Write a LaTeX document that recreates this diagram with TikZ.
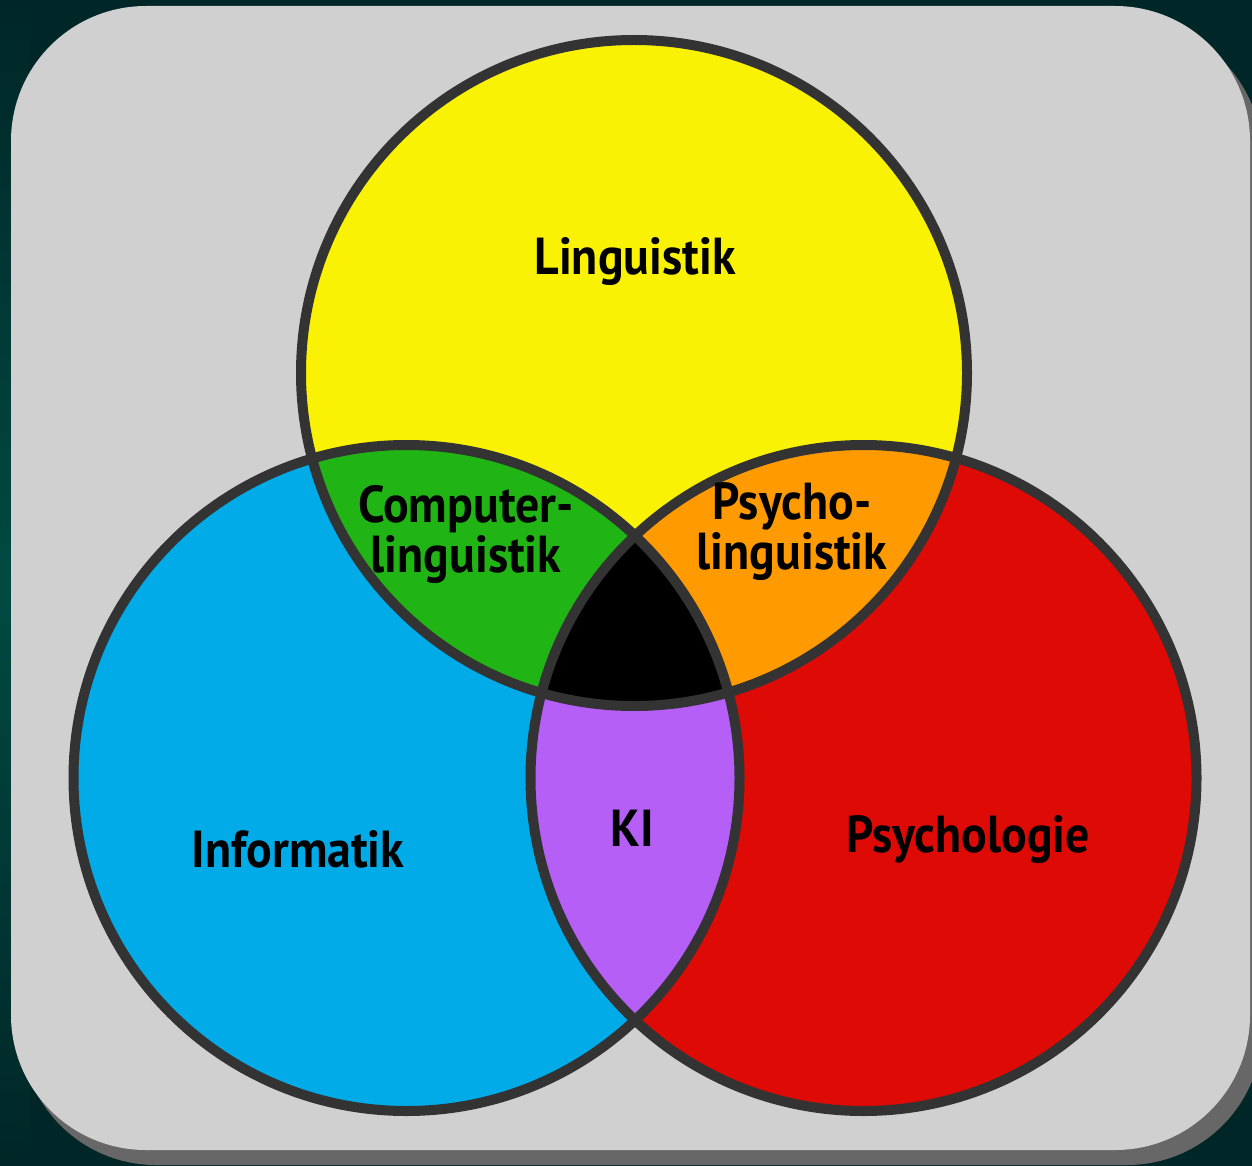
\documentclass[tikz,border=0pt]{standalone}
\usepackage{fontspec}
\setmainfont{PT Sans}
\newfontfamily\lblfamily[FakeStretch=0.92]{PT Sans}
\definecolor{bgdark}{HTML}{002627}
\definecolor{bgteal}{HTML}{004A42}
\definecolor{cardgray}{HTML}{D0D0D0}
\definecolor{shadowgray}{HTML}{676767}
\definecolor{ringgray}{HTML}{333333}
\definecolor{yel}{HTML}{FAF205}
\definecolor{grn}{HTML}{20B515}
\definecolor{org}{HTML}{FF9A00}
\definecolor{blu}{HTML}{00ABE8}
\definecolor{rd}{HTML}{DD0A05}
\definecolor{pur}{HTML}{B65FF7}
\begin{document}
\begin{tikzpicture}[x=1pt,y=-1pt,
  ring/.style={draw=ringgray, line width=10pt},
  lbl/.style={font=\lblfamily\bfseries\fontsize{52}{50}\selectfont, align=center, text=black, inner sep=0pt}]
\useasboundingbox (0,0) rectangle (1252,1166);
\fill[bgdark] (0,0) rectangle (1252,1166);
\shade[top color=bgdark, bottom color=bgdark, middle color=bgteal] (0,0) rectangle (30,1166);
\fill[shadowgray, rounded corners=135pt] (21,21) rectangle (1262,1165);
\fill[cardgray, rounded corners=135pt] (11,6) rectangle (1250,1150);
\path (634,373) coordinate (cY) (406.5,778) coordinate (cB) (863.5,778) coordinate (cR);
\def\rad{333}
\fill[blu] (cB) circle[radius=\rad];
\fill[rd] (cR) circle[radius=\rad];
\fill[yel] (cY) circle[radius=\rad];
\begin{scope}
  \clip (cB) circle[radius=\rad];
  \fill[pur] (cR) circle[radius=\rad];
\end{scope}
\begin{scope}
  \clip (cY) circle[radius=\rad];
  \fill[grn] (cB) circle[radius=\rad];
  \fill[org] (cR) circle[radius=\rad];
  \clip (cB) circle[radius=\rad];
  \fill[black] (cR) circle[radius=\rad];
\end{scope}
\draw[ring] (cY) circle[radius=\rad];
\draw[ring] (cB) circle[radius=\rad];
\draw[ring] (cR) circle[radius=\rad];
\node[lbl] (ling) at (635,262) {Linguistik};
\node[lbl] (cl) at (466,534) {Computer-\\linguistik};
\node[lbl] (pl) at (792,532) {Psycho-\\linguistik};
\node[lbl] (ki) at (632,828) {KI};
\node[lbl] (inf) at (298,849) {Informatik};
\node[lbl] (psy) at (968,840) {Psychologie};
\end{tikzpicture}
\end{document}
